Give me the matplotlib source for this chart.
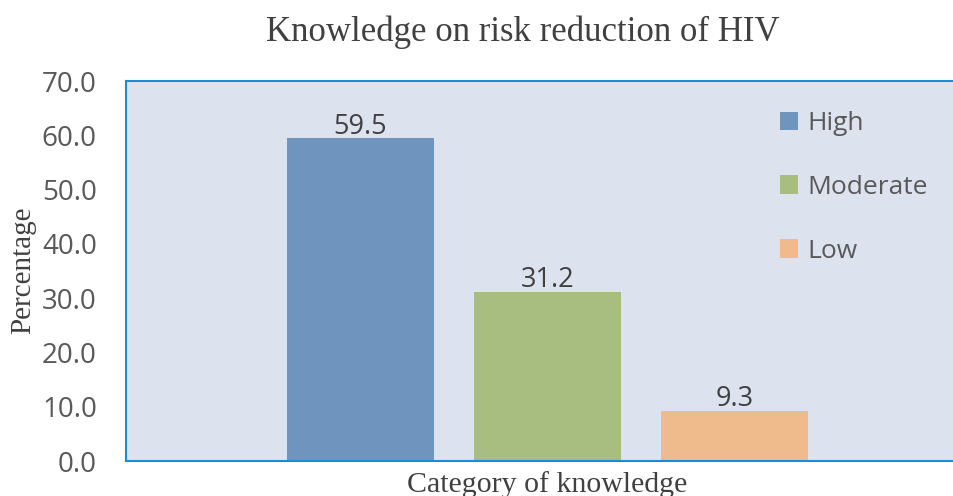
import matplotlib
matplotlib.use("Agg")
import matplotlib.pyplot as plt
from matplotlib.patches import Patch

categories = ["High", "Moderate", "Low"]
values = [59.5, 31.2, 9.3]
colors = ["#6f95bf", "#a8bd80", "#f0bb8c"]
yticks = [0, 10, 20, 30, 40, 50, 60, 70]

W, H = 954, 496
fig = plt.figure(figsize=(W/100, H/100), dpi=100)
left, right, top, bottom = 126, 969, 81, 461
ax = fig.add_axes([left/W, 1 - bottom/H, (right-left)/W, (bottom-top)/H])
ax.set_facecolor("#dde3ee")

x = list(range(len(values)))
bars = ax.bar(x, values, width=0.786, color=colors, zorder=2)
ax.set_xlim(-1.254, 3.254)
ax.set_ylim(0, 70)
ax.set_yticks(yticks)
ax.set_yticklabels([f"{v:.1f}" for v in yticks], fontfamily="Open Sans", fontsize=20, color="#595959")
ax.set_xticks([])
ax.tick_params(axis="y", length=0, pad=21)

for s in ["top", "left", "bottom"]:
    ax.spines[s].set_color("#1a8dd8")
    ax.spines[s].set_linewidth(1.5)
ax.spines["right"].set_visible(False)

for xi, v in zip(x, values):
    ax.text(xi, v - 0.5, f"{v:.1f}", ha="center", va="bottom", fontfamily="Open Sans",
            fontsize=19.5, color="#404040")

fig.text(523/W, 1 - 32/H, "Knowledge on risk reduction of HIV", ha="center", va="center",
         fontfamily="Liberation Serif", fontsize=25, color="#404040")
fig.text(23/W, 1 - 270/H, "Percentage", rotation=90, ha="center", va="center",
         fontfamily="Liberation Serif", fontsize=21, color="#404040")
fig.text(547/W, 1 - 485/H, "Category of knowledge", ha="center", va="center",
         fontfamily="Liberation Serif", fontsize=21.5, color="#404040")

handles = [Patch(facecolor=c, edgecolor="none") for c in colors]
leg = ax.legend(handles, categories, loc="upper left",
                bbox_to_anchor=((780 - left)/(right-left), 1 - (111-top)/(bottom-top)),
                frameon=False, prop={"family": "Open Sans", "size": 19},
                handlelength=0.7, handleheight=0.7, handletextpad=0.35, labelspacing=1.47,
                labelcolor="#595959", borderaxespad=0, borderpad=0)

fig.savefig("out.png", dpi=100)
